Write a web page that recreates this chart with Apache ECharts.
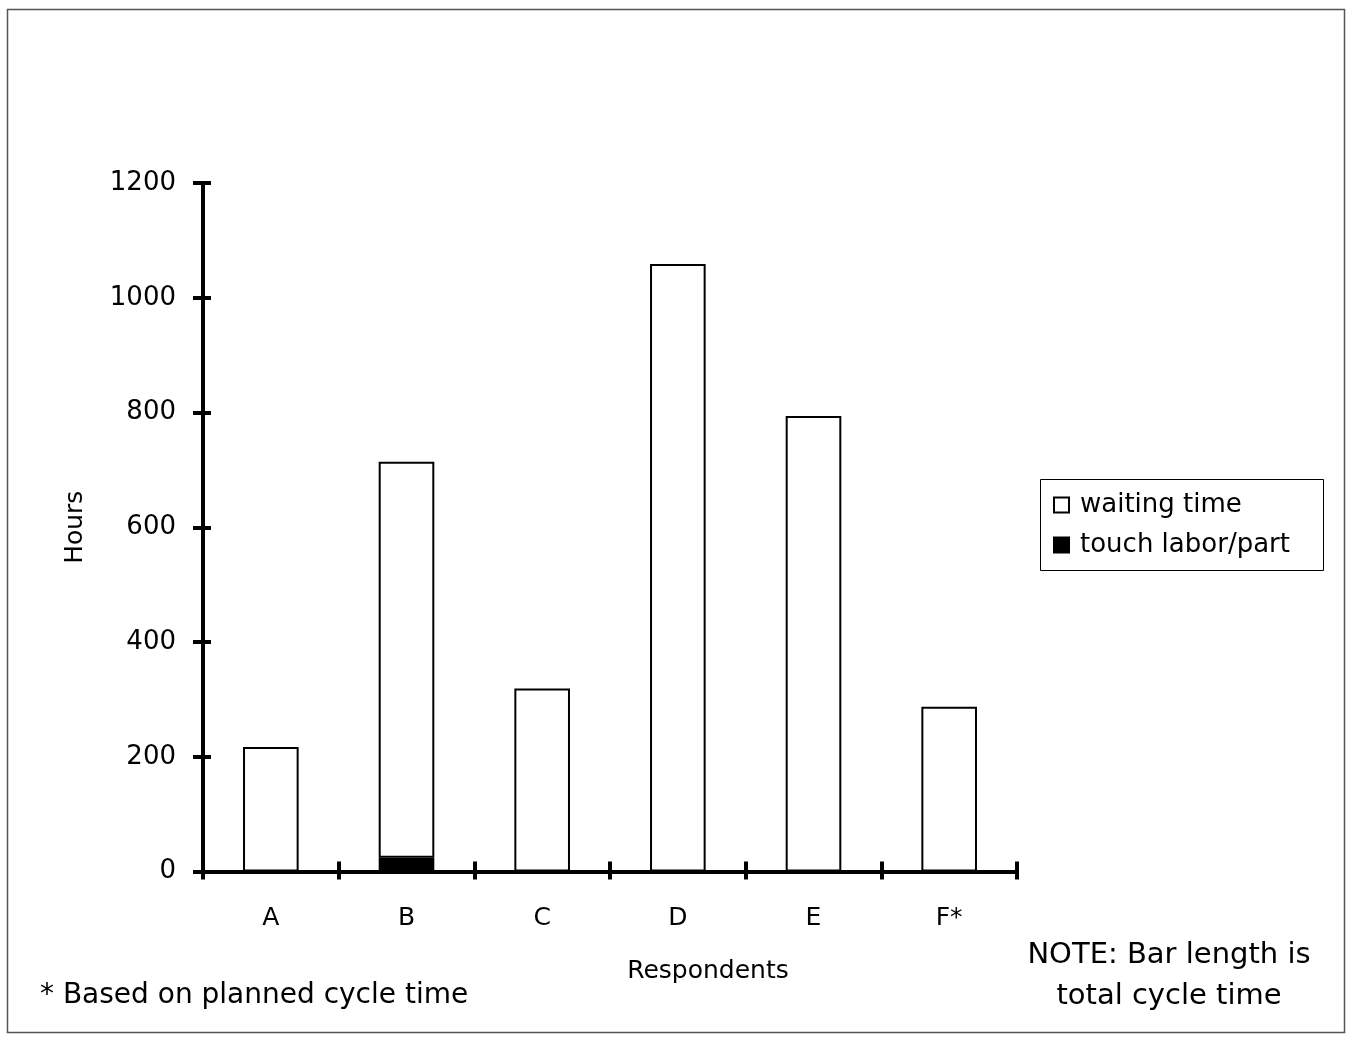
<!DOCTYPE html>
<html><head><meta charset="utf-8">
<script src="https://cdn.jsdelivr.net/npm/echarts@6/dist/echarts.min.js"></script>
<style>html,body{margin:0;padding:0;background:#fff}#c{width:1353px;height:1039px}</style>
</head><body><div id="c"></div>
<script>
const categories = ['A','B','C','D','E','F*'];
const touchLabor = [0, 24, 0, 0, 0, 0];
const waitingTime = [217, 690, 319, 1059, 794, 287];
const yTicks = [0, 200, 400, 600, 800, 1000, 1200];

const FONT = 'DejaVu Sans';
const chart = echarts.init(document.getElementById('c'));
const axisCommon = {min: 0, max: 1200, interval: 200};
const hideZero = arr => arr.map(v => v === 0 ? '-' : v);
chart.setOption({
  backgroundColor: '#fff',
  animation: false,
  grid: {left: 203, right: 336, top: 183, bottom: 167.5},
  legend: {
    orient: 'vertical', left: 1048, top: 487, itemGap: 14,
    itemWidth: 15, itemHeight: 15, icon: 'rect',
    textStyle: {fontFamily: FONT, fontSize: 26, color: '#000', padding: [0, 0, 0, 6]},
    data: ['waiting time', 'touch labor/part']
  },
  xAxis: [{
    type: 'category', data: categories,
    axisLine: {lineStyle: {color: '#000', width: 4}},
    axisTick: {show: true, length: 8, lineStyle: {color: '#000', width: 4}},
    axisLabel: {fontFamily: FONT, fontSize: 25, color: '#000', margin: 34}
  }, {
    type: 'category', data: categories, position: 'bottom',
    axisLine: {show: false},
    axisTick: {show: true, inside: true, length: 10, lineStyle: {color: '#000', width: 4}},
    axisLabel: {show: false}
  }],
  yAxis: [Object.assign({
    type: 'value',
    axisLine: {show: true, lineStyle: {color: '#000', width: 4}},
    axisTick: {show: true, length: 10, lineStyle: {color: '#000', width: 4}},
    splitLine: {show: false},
    axisLabel: {fontFamily: FONT, fontSize: 26, color: '#000', margin: 27,
      formatter: v => yTicks.includes(v) ? String(v) : ''},
    name: 'Hours', nameLocation: 'middle', nameGap: 115,
    nameTextStyle: {fontFamily: FONT, fontSize: 25, color: '#000'}
  }, axisCommon), Object.assign({
    type: 'value', position: 'left',
    axisLine: {show: false},
    axisTick: {show: true, inside: true, length: 8, lineStyle: {color: '#000', width: 4}},
    axisLabel: {show: false}, splitLine: {show: false}
  }, axisCommon)],
  series: [{
    name: 'touch labor/part', type: 'bar', stack: 's', data: hideZero(touchLabor),
    barWidth: '41%',
    itemStyle: {color: '#000', borderColor: '#000', borderWidth: 2}
  }, {
    name: 'waiting time', type: 'bar', stack: 's', data: waitingTime,
    barWidth: '41%',
    itemStyle: {color: '#fff', borderColor: '#000', borderWidth: 2}
  }],
  graphic: [
    {type: 'rect', shape: {x: 7.5, y: 9.5, width: 1337, height: 1023}, style: {fill: 'none', stroke: '#555', lineWidth: 1.5}, silent: true},
    {type: 'rect', shape: {x: 1040.5, y: 479.5, width: 283, height: 91}, style: {fill: 'none', stroke: '#000', lineWidth: 1}, silent: true},
    {type: 'text', style: {x: 708, y: 971, text: 'Respondents', fontFamily: FONT, fontSize: 25, fill: '#000', textAlign: 'center', textVerticalAlign: 'middle'}},
    {type: 'text', style: {x: 40, y: 996, text: '* Based on planned cycle time', fontFamily: FONT, fontSize: 28, fill: '#000', textAlign: 'left', textVerticalAlign: 'middle'}},
    {type: 'text', style: {x: 1169, y: 955, text: 'NOTE: Bar length is', fontFamily: FONT, fontSize: 29, fill: '#000', textAlign: 'center', textVerticalAlign: 'middle'}},
    {type: 'text', style: {x: 1169, y: 996, text: 'total cycle time', fontFamily: FONT, fontSize: 29, fill: '#000', textAlign: 'center', textVerticalAlign: 'middle'}}
  ]
});
</script></body></html>
